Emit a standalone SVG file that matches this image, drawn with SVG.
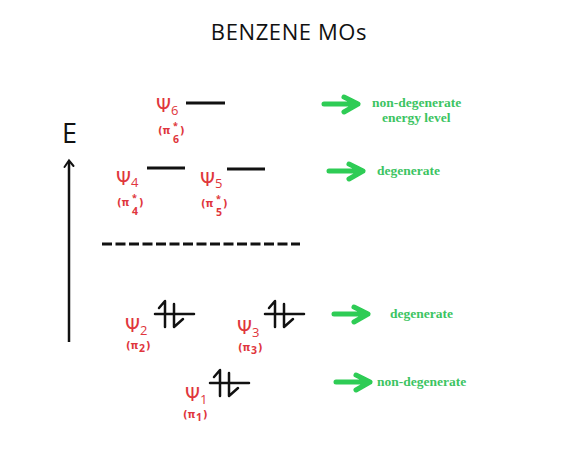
<svg xmlns="http://www.w3.org/2000/svg" xmlns:xlink="http://www.w3.org/1999/xlink" width="564" height="458" viewBox="0 0 564 458">
<style>
.title{font-family:"Open Sans","Noto Sans",sans-serif;font-size:22px;letter-spacing:0.6px;fill:#111}
.axis{font-family:"Open Sans","Noto Sans",sans-serif;font-size:27px;fill:#111}
.psi{font-family:"DejaVu Sans","Noto Sans",sans-serif;font-size:19px;fill:#e0363c}
.sub{font-family:"Open Sans","Noto Sans",sans-serif;font-size:13px;fill:#e0363c}
.pi{font-family:"DejaVu Sans","Noto Sans",sans-serif;font-size:10px;font-weight:bold;fill:#e0363c}
.pis{font-family:"Open Sans","Noto Sans",sans-serif;font-size:10.5px;font-weight:bold;fill:#e0363c}
.star{font-family:"Open Sans","Noto Sans",sans-serif;font-size:9px;font-weight:bold;fill:#e0363c}
.lbl{font-family:"Liberation Serif","DejaVu Serif",serif;font-size:13.5px;font-weight:bold;fill:#3cc462}
.lvl{stroke:#111;stroke-width:3;fill:none}
.garrow{stroke:#2ecc55;stroke-width:5;stroke-linecap:round;stroke-linejoin:round;fill:none}
.el{stroke:#111;stroke-width:2.5;fill:none;stroke-linecap:round;stroke-linejoin:round}
</style>
<defs>
<g id="pair">
<path class="el" d="M0 0 H39"/>
<path class="el" d="M10 13 V-13 L4 -6"/>
<path class="el" d="M19 -10 V13 L28 5"/>
</g>
<g id="garrow">
<path class="garrow" d="M0 0 H34 M20 -7 L34 0 L20 8"/>
</g>
</defs>
<text class="title" x="289" y="40" text-anchor="middle">BENZENE MOs</text>
<g id="axis">
<path d="M69 342 V161" stroke="#111" stroke-width="2.5" fill="none"/>
<path d="M64.5 167 L69 160.5 L73.5 166" stroke="#111" stroke-width="2" fill="none" stroke-linecap="round"/>
<text class="axis" x="62" y="143">E</text>
</g>
<g id="psi6">
<path class="lvl" d="M186 103 H225"/>
<text class="psi" x="156" y="112">Ψ</text><text class="sub" x="171" y="115">6</text>
<text class="pi" x="158" y="134">(π</text><text class="star" x="173" y="128.5">*</text><text class="pis" x="173" y="142.5">6</text><text class="pi" x="180" y="134">)</text>
</g>
<g id="psi4">
<path class="lvl" d="M147 168 H185"/>
<text class="psi" x="116" y="185">Ψ</text><text class="sub" x="131" y="187">4</text>
<text class="pi" x="117" y="206">(π</text><text class="star" x="132" y="201">*</text><text class="pis" x="132" y="215">4</text><text class="pi" x="139" y="206">)</text>
</g>
<g id="psi5">
<path class="lvl" d="M227 169 H265"/>
<text class="psi" x="200" y="186">Ψ</text><text class="sub" x="215" y="188">5</text>
<text class="pi" x="201" y="207">(π</text><text class="star" x="216" y="202">*</text><text class="pis" x="216" y="216">5</text><text class="pi" x="223" y="207">)</text>
</g>
<path id="hl" d="M102 244 H300" stroke="#111" stroke-width="3" stroke-dasharray="10 3.5" fill="none"/>
<g id="psi2">
<use xlink:href="#pair" x="155" y="314"/>
<text class="psi" x="125" y="332">Ψ</text><text class="sub" x="140" y="335">2</text>
<text class="pi" x="126" y="349">(π</text><text class="pis" x="139" y="352">2</text><text class="pi" x="146" y="349">)</text>
</g>
<g id="psi3">
<use xlink:href="#pair" x="265" y="314"/>
<text class="psi" x="237" y="334">Ψ</text><text class="sub" x="252" y="337">3</text>
<text class="pi" x="238" y="351">(π</text><text class="pis" x="251" y="354">3</text><text class="pi" x="258" y="351">)</text>
</g>
<g id="psi1">
<use xlink:href="#pair" x="210" y="383"/>
<text class="psi" x="185" y="401">Ψ</text><text class="sub" x="200" y="404">1</text>
<text class="pi" x="183" y="418">(π</text><text class="pis" x="196" y="421">1</text><text class="pi" x="203" y="418">)</text>
</g>
<g id="connectors">
<use xlink:href="#garrow" x="324" y="104"/>
<use xlink:href="#garrow" x="329" y="171"/>
<use xlink:href="#garrow" x="334" y="314"/>
<use xlink:href="#garrow" x="336" y="382"/>
</g>
<g id="labels">
<text class="lbl" x="372" y="107">non-degenerate</text>
<text class="lbl" x="382" y="122">energy level</text>
<text class="lbl" x="377" y="175">degenerate</text>
<text class="lbl" x="390" y="318">degenerate</text>
<text class="lbl" x="377" y="386">non-degenerate</text>
</g>
</svg>
